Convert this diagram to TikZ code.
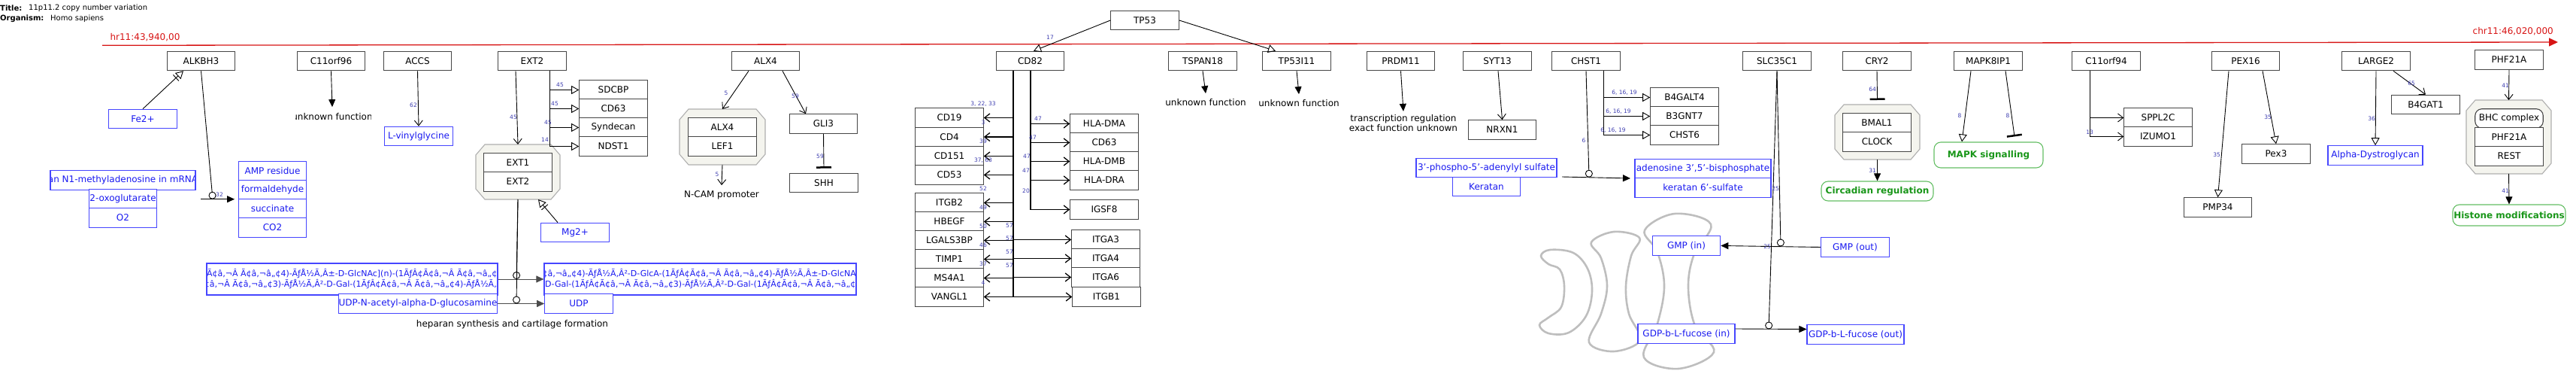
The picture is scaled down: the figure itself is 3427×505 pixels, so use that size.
\documentclass[tikz,border=0pt]{standalone}
\usepackage{fontspec}
\setmainfont{DejaVu Sans}
\usetikzlibrary{arrows.meta}
\definecolor{gbd}{RGB}{70,70,70}
\definecolor{mb}{RGB}{70,70,255}
\definecolor{mt}{RGB}{25,25,240}
\definecolor{lb}{RGB}{60,60,175}
\definecolor{pg}{RGB}{100,190,100}
\definecolor{ptx}{RGB}{25,150,25}
\definecolor{cf}{RGB}{244,244,238}
\definecolor{cb}{RGB}{175,175,175}
\definecolor{golgi}{RGB}{190,190,190}
\definecolor{axr}{RGB}{215,20,20}
\newcommand\cplxbox[5]{%
 \draw[cplx] ({#2+12},#3) -- ({#4-12},#3) -- (#4,{#3+14}) -- (#4,{#5-14}) -- ({#4-12},#5) -- ({#2+12},#5) -- (#2,{#5-14}) -- (#2,{#3+14}) -- cycle;
 \coordinate (#1n) at ({(#2+#4)/2},#3);
 \coordinate (#1s) at ({(#2+#4)/2},#5);}
\tikzset{
 gene/.style={draw=gbd, line width=1.1pt, fill=white, minimum width=90.5pt, minimum height=25.5pt, inner sep=0pt, font=\fontsize{12}{14}\selectfont},
 met/.style={gene, draw=mb, text=mt},
 pw/.style={draw=pg, line width=1.1pt, fill=white, rounded corners=9pt, text=ptx, font=\fontsize{12}{14}\selectfont\bfseries, inner sep=0pt, minimum height=26pt},
 txt/.style={font=\fontsize{12}{13.5}\selectfont, inner sep=0pt, align=center},
 num/.style={font=\fontsize{7.5}{9}\selectfont, text=lb, inner sep=0pt},
 moji/.style={inner sep=0, align=center, text=mt, font=\fontsize{11}{14}\selectfont},
 conn/.style={line width=0.9pt, draw=black},
 arr/.style={conn, -{Triangle[length=10pt,width=9pt]}},
 larr/.style={conn, -{Straight Barb[length=7pt,width=11pt]}},
 oarr/.style={conn, -{Triangle[open,length=10pt,width=11pt]}},
 barr/.style={conn, -{Bar[width=11pt,sep=3pt]Triangle[open,length=10pt,width=11pt]}},
 inh/.style={conn, -{Bar[width=20pt,line width=2.5pt]}},
 cat/.style={conn, -{Circle[open,length=10pt]}},
 cplx/.style={draw=cb, fill=cf, line width=1.1pt},
 golgishape/.style={draw=golgi, line width=2.6pt},
}
\begin{document}
\begin{tikzpicture}[x=1pt,y=-1pt]
\useasboundingbox (0,0) rectangle (3427,505);
% header
\node[anchor=west, inner sep=0, font=\fontsize{10}{12}\selectfont\bfseries] (ttl) at (0,11) {Title:};
\node[anchor=west, inner sep=0, font=\fontsize{10}{12}\selectfont] (ttlv) at (38,11) {11p11.2 copy number variation};
\node[anchor=west, inner sep=0, font=\fontsize{10}{12}\selectfont\bfseries] (org) at (0,25) {Organism:};
\node[anchor=west, inner sep=0, font=\fontsize{10}{12}\selectfont] (orgv) at (67,25) {Homo sapiens};
% chromosome axis
\coordinate (axa) at (136,60.3);
\coordinate (axb) at (3403,56);
\draw[axr, line width=1.3pt, -{Triangle[length=12pt,width=11pt]}] (axa) -- (axb);
\node[inner sep=0, text=axr, font=\fontsize{12}{14}\selectfont] (axl) at (193,50) {hr11:43,940,00};
\node[inner sep=0, anchor=east, text=axr, font=\fontsize{12}{14}\selectfont] (axr) at (3397,42) {chr11:46,020,000};
% golgi
\draw[golgishape] plot[smooth cycle, tension=0.6] coordinates {(2050,340) (2062,332) (2093,336) (2112,357) (2118,387) (2110,420) (2087,442) (2060,443) (2048,432) (2060,422) (2077,408) (2081,380) (2075,358) (2060,351)};
\draw[golgishape] plot[smooth cycle, tension=0.6] coordinates {(2117,322) (2147,308) (2181,316) (2170,340) (2163,380) (2167,417) (2182,452) (2147,467) (2114,455) (2130,417) (2138,380) (2130,343)};
\draw[golgishape] plot[smooth cycle, tension=0.6] coordinates {(2188,306) (2228,284) (2276,298) (2253,340) (2246,383) (2255,433) (2280,468) (2233,490) (2187,475) (2205,430) (2214,380) (2205,335)};
% complexes
\cplxbox{extc}{633}{192}{745}{265}
\cplxbox{alxc}{904}{145}{1018}{219}
\cplxbox{bmalc}{2441}{139}{2554}{212}
\cplxbox{bhcc}{3281}{133}{3394}{231}
% genes
\node[gene] (alkbh3) at (267.5,81) {ALKBH3};
\node[gene] (c11orf96) at (440.5,81) {C11orf96};
\node[gene] (accs) at (555.5,81) {ACCS};
\node[gene] (ext2) at (708,81) {EXT2};
\node[gene] (alx4) at (1018.5,81) {ALX4};
\node[gene] (tp53) at (1523,27) {TP53};
\node[gene] (cd82) at (1370.5,81) {CD82};
\node[gene] (tspan18) at (1600,81) {TSPAN18};
\node[gene] (tp53i11) at (1725,81) {TP53I11};
\node[gene] (prdm11) at (1863.5,81) {PRDM11};
\node[gene] (syt13) at (1992,81) {SYT13};
\node[gene] (chst1) at (2110,81) {CHST1};
\node[gene] (slc35c1) at (2364,81) {SLC35C1};
\node[gene] (cry2) at (2497,81) {CRY2};
\node[gene] (mapk8ip1) at (2645,81) {MAPK8IP1};
\node[gene] (c11orf94) at (2802,81) {C11orf94};
\node[gene] (pex16) at (2987.5,81) {PEX16};
\node[gene] (large2) at (3161,81) {LARGE2};
\node[gene] (phf21a) at (3338,79.5) {PHF21A};
\node[gene] (sdcbp) at (816,119.5) {SDCBP};
\node[gene] (cd63a) at (816,144.5) {CD63};
\node[gene] (syndecan) at (816,169.5) {Syndecan};
\node[gene] (ndst1) at (816,194.5) {NDST1};
\node[gene] (ext1) at (689,216) {EXT1};
\node[gene] (ext2b) at (689,241.5) {EXT2};
\node[gene] (alx4b) at (961,169.5) {ALX4};
\node[gene] (lef1) at (961,194.5) {LEF1};
\node[gene] (gli3) at (1095.5,164.5) {GLI3};
\node[gene] (shh) at (1096,243) {SHH};
\node[gene] (cd19) at (1263,156.5) {CD19};
\node[gene] (cd4) at (1263,182) {CD4};
\node[gene] (cd151) at (1263,207.5) {CD151};
\node[gene] (cd53) at (1263,232.5) {CD53};
\node[gene] (itgb2) at (1263,269.5) {ITGB2};
\node[gene] (hbegf) at (1263,294.5) {HBEGF};
\node[gene] (lgals3bp) at (1263,319.5) {LGALS3BP};
\node[gene] (timp1) at (1263,344.5) {TIMP1};
\node[gene] (ms4a1) at (1263,369.5) {MS4A1};
\node[gene] (vangl1) at (1263,394.5) {VANGL1};
\node[gene] (hladma) at (1469,164.5) {HLA-DMA};
\node[gene] (cd63b) at (1469,189.5) {CD63};
\node[gene] (hladmb) at (1469,214.5) {HLA-DMB};
\node[gene] (hladra) at (1469,239.5) {HLA-DRA};
\node[gene] (igsf8) at (1469,278.5) {IGSF8};
\node[gene] (itga3) at (1471,318.5) {ITGA3};
\node[gene] (itga4) at (1471,343.5) {ITGA4};
\node[gene] (itga6) at (1471,368.5) {ITGA6};
\node[gene] (itgb1) at (1472,394.5) {ITGB1};
\node[gene] (nrxn1) at (1998.5,172.5) {NRXN1};
\node[gene] (b4galt4) at (2241,129.5) {B4GALT4};
\node[gene] (b3gnt7) at (2241,154.5) {B3GNT7};
\node[gene] (chst6) at (2241,179.5) {CHST6};
\node[gene] (bmal1) at (2497,163.5) {BMAL1};
\node[gene] (clock) at (2497,188.5) {CLOCK};
\node[gene] (sppl2c) at (2871,156.5) {SPPL2C};
\node[gene] (izumo1) at (2871,181.5) {IZUMO1};
\node[gene] (pmp34) at (2950.5,275.5) {PMP34};
\node[gene] (pex3) at (3028,204.5) {Pex3};
\node[gene] (b4gat1) at (3227,139) {B4GAT1};
\node[gene, rounded corners=9pt] (bhc) at (3338,157.5) {BHC complex};
\node[gene] (phf21ab) at (3338,182.5) {PHF21A};
\node[gene] (rest) at (3338,207.5) {REST};
% metabolites
\node[met] (fe2) at (190,158) {Fe2+};
\begin{scope}
\clip (67,227) rectangle (260,252);
\node[txt, text=mt] (n1t) at (163.5,239.5) {an N1-methyladenosine in mRNA};
\end{scope}
\node[met, fill=none, minimum width=193pt] (n1meth) at (163.5,239.5) {};
\node[met] (oxoglut) at (163.5,264.5) {2-oxoglutarate};
\node[met] (o2) at (163.5,289.5) {O2};
\node[met] (amp) at (362.5,227) {AMP residue};
\node[met] (formald) at (362.5,252.5) {formaldehyde};
\node[met] (succ) at (362.5,277.5) {succinate};
\node[met] (co2) at (362.5,302.5) {CO2};
\node[met] (lvinyl) at (557,181) {L-vinylglycine};
\begin{scope}
\clip (275,350) rectangle (662,392);
\node[moji] (big1t) at (468.5,371) {ÃƒÂ¢Ã¢â‚¬Â Ã¢â‚¬â„¢4)-ÃƒÅ½Ã‚Â±-D-GlcNAc](n)-(1ÃƒÂ¢Ã¢â‚¬Â Ã¢â‚¬â„¢4)-Ãƒ\\Ã¢â‚¬Â Ã¢â‚¬â„¢3)-ÃƒÅ½Ã‚Â²-D-Gal-(1ÃƒÂ¢Ã¢â‚¬Â Ã¢â‚¬â„¢4)-ÃƒÅ½Ã‚Â²};
\end{scope}
\node[met, fill=none, minimum width=387pt, minimum height=42pt] (big1) at (468.5,371) {};
\begin{scope}
\clip (724,350) rectangle (1139,392);
\node[moji] (big2t) at (931.5,371) {Ã¢â‚¬â„¢4)-ÃƒÅ½Ã‚Â²-D-GlcA-(1ÃƒÂ¢Ã¢â‚¬Â Ã¢â‚¬â„¢4)-ÃƒÅ½Ã‚Â±-D-GlcNAc]\\Ã‚Â²-D-Gal-(1ÃƒÂ¢Ã¢â‚¬Â Ã¢â‚¬â„¢3)-ÃƒÅ½Ã‚Â²-D-Gal-(1ÃƒÂ¢Ã¢â‚¬Â Ã¢â‚¬â„¢4)-Ãƒ};
\end{scope}
\node[met, fill=none, minimum width=415pt, minimum height=42pt] (big2) at (931.5,371) {};
\node[met, minimum width=210pt] (udpnac) at (556,403.5) {UDP-N-acetyl-alpha-D-glucosamine};
\node[met] (udp) at (770,403.5) {UDP};
\node[met] (mg2) at (765,309) {Mg2+};
\node[met, minimum width=187pt] (paps) at (1977.5,223) {3'-phospho-5'-adenylyl sulfate};
\node[met] (keratan) at (1977.5,248) {Keratan};
\node[met, minimum width=181pt] (pap) at (2265.5,224) {adenosine 3',5'-bisphosphate};
\node[met, minimum width=181pt] (ker6s) at (2265.5,249.5) {keratan 6'-sulfate};
\node[met] (gmpin) at (2243.5,326.5) {GMP (in)};
\node[met] (gmpout) at (2468,328.5) {GMP (out)};
\node[met, minimum width=129pt] (gdpin) at (2243.5,443.5) {GDP-b-L-fucose (in)};
\node[met, minimum width=129pt] (gdpout) at (2468.5,444.5) {GDP-b-L-fucose (out)};
\node[met, minimum width=126pt] (adg) at (3160,206.5) {Alpha-Dystroglycan};
% pathways
\node[pw, minimum width=149pt] (circ) at (2497.5,254) {Circadian regulation};
\node[pw, minimum width=145pt, minimum height=34pt] (mapk) at (2645.5,206) {MAPK signalling};
\node[pw, minimum width=150pt, minimum height=28pt] (histone) at (3338,286) {Histone modifications};
% free texts
\begin{scope}
\clip (393,140) rectangle (493,170);
\node[txt] (uf1) at (442,155) {unknown function};
\end{scope}
\node[txt] (uf2) at (1604,136) {unknown function};
\node[txt] (uf3) at (1728,137) {unknown function};
\node[txt] (trx) at (1867,163.5) {transcription regulation\\exact function unknown};
\node[txt] (ncam) at (960,259) {N-CAM promoter};
\node[txt] (hep) at (681.5,431) {heparan synthesis and cartilage formation};
% reaction points
\coordinate (r1a) at (267,264.7);
\coordinate (r1b) at (312,264.7);
\coordinate (r1c) at (283,264.7);
\coordinate (r2c) at (687,371);
\coordinate (r3c) at (687,403.5);
\coordinate (r5a) at (2078,235);
\coordinate (r5b) at (2169,237);
\coordinate (r5c) at (2114,235.7);
\coordinate (r6c) at (2369,327.5);
\coordinate (r7c) at (2353,437.5);
% connectors
\draw[barr] (fe2.north) -- ([xshift=-23.5pt]alkbh3.south);
\draw[arr] (r1a) -- (r1b);
\draw[cat] (alkbh3.south) -- (r1c);
\draw[arr] (c11orf96.south) -- ([yshift=8pt]uf1.north);
\draw[larr] (accs.south) -- (lvinyl.north);
\draw[larr] ([xshift=-22pt]ext2.south) -- (extcn);
\foreach \t in {sdcbp,cd63a,syndecan,ndst1}{\draw[oarr] ([xshift=23pt]ext2.south) |- (\t.west);}
\draw[barr] ([xshift=-23pt]mg2.north) -- ([xshift=27pt]extcs);
\draw[arr, draw=black!70] (big1.east) -- (big2.west);
\draw[arr, draw=black!70] (udpnac.east) -- (udp.west);
\draw[cat] (extcs) -- (r2c);
\draw[cat] (extcs) -- (r3c);
\draw[larr] ([xshift=-22.5pt]alx4.south) -- (alxcn);
\draw[larr] ([xshift=22.5pt]alx4.south) -- ([xshift=-23.5pt]gli3.north);
\draw[inh] (gli3.south) -- ([yshift=6pt]shh.north);
\draw[larr] (alxcs) -- ([yshift=7pt]ncam.north);
\draw[oarr] (tp53.west) -- ([xshift=4.5pt]cd82.north);
\draw[oarr] (tp53.east) -- ([xshift=-28pt]tp53i11.north);
\foreach \t in {cd19,cd4,cd151,cd53,itgb2,hbegf,lgals3bp,timp1,ms4a1,vangl1}{\draw[larr, line width=1.3pt] ([xshift=-22.5pt]cd82.south) |- (\t.east);}
\foreach \t in {itga3,itga4,itga6,itgb1}{\draw[larr, line width=1.3pt] ([xshift=-22.5pt]cd82.south) |- (\t.west);}
\foreach \t in {hladma,cd63b,hladmb,hladra,igsf8}{\draw[larr, line width=1.3pt] ([xshift=0.5pt]cd82.south) |- (\t.west);}
\draw[arr] (tspan18.south) -- ([yshift=7pt]uf2.north);
\draw[arr] (tp53i11.south) -- ([yshift=7pt]uf3.north);
\draw[arr] (prdm11.south) -- ([yshift=4pt]trx.north);
\draw[larr] ([xshift=1pt]syt13.south) -- (nrxn1.north);
\draw[cat] (chst1.south) -- (r5c);
\foreach \t in {b4galt4,b3gnt7,chst6}{\draw[oarr] ([xshift=23pt]chst1.south) |- (\t.west);}
\draw[arr] (r5a) -- (r5b);
\draw[arr] (gmpout.west) -- (gmpin.east);
\draw[arr] ([yshift=6.5pt]gdpin.east) -- ([yshift=7pt]gdpout.west);
\draw[cat] (slc35c1.south) -- (r6c);
\draw[cat] (slc35c1.south) -- (r7c);
\draw[inh] (cry2.south) -- ([yshift=6pt]bmalcn);
\draw[arr] (bmalcs) -- (circ.north);
\draw[oarr] ([xshift=-23pt]mapk8ip1.south) -- ([xshift=-35.5pt]mapk.north);
\draw[inh] ([xshift=23pt]mapk8ip1.south) -- ([xshift=34.5pt,yshift=7pt]mapk.north);
\foreach \t in {sppl2c,izumo1}{\draw[larr] ([xshift=-22pt]c11orf94.south) |- (\t.west);}
\draw[oarr] ([xshift=-22.5pt]pex16.south) -- (pmp34.north);
\draw[oarr] ([xshift=22.5pt]pex16.south) -- (pex3.north);
\draw[oarr] (large2.south) -- (adg.north);
\draw[larr] ([xshift=23pt]large2.south) -- (b4gat1.north);
\draw[larr] (phf21a.south) -- (bhccn);
\draw[arr] (bhccs) -- (histone.north);
% numbers
\node[num] (l1) at (292,259) {32};
\node[num] (l2) at (550,140) {62};
\node[num] (l3) at (683,156) {45};
\node[num] (l4) at (745,113) {45};
\node[num] (l5) at (738,138) {45};
\node[num] (l6) at (729,163) {45};
\node[num] (l7) at (725,186) {14};
\node[num] (l8) at (966,124) {5};
\node[num] (l9) at (1058,128) {59};
\node[num] (l10) at (1091,208) {59};
\node[num] (l11) at (954,232) {5};
\node[num] (l12) at (1397,50) {17};
\node[num] (l13) at (1308,138) {3, 22, 33};
\node[num] (l14) at (1308,163) {3};
\node[num] (l15) at (1308,188) {39};
\node[num] (l16) at (1308,213) {37, 63};
\node[num] (l17) at (1308,251) {52};
\node[num] (l18) at (1308,276) {49};
\node[num] (l19) at (1308,301) {50};
\node[num] (l20) at (1308,326) {46};
\node[num] (l21) at (1308,351) {37};
\node[num] (l22) at (1308,376) {4};
\node[num] (l23) at (1381,158) {47};
\node[num] (l24) at (1374,183) {47};
\node[num] (l25) at (1366,208) {47};
\node[num] (l26) at (1365,227) {47};
\node[num] (l27) at (1365,254) {20};
\node[num] (l28) at (1343,300) {57};
\node[num] (l29) at (1343,317) {57};
\node[num] (l30) at (1343,335) {57};
\node[num] (l31) at (1343,353) {57};
\node[num] (l32) at (2107,187) {6};
\node[num] (l33) at (2161,123) {6, 16, 19};
\node[num] (l34) at (2153,148) {6, 16, 19};
\node[num] (l35) at (2146,173) {6, 16, 19};
\node[num] (l36) at (2362,251) {25};
\node[num] (l37) at (2351,328) {25};
\node[num] (l38) at (2491,119) {64};
\node[num] (l39) at (2491,227) {31};
\node[num] (l40) at (2607,154) {8};
\node[num] (l41) at (2671,154) {8};
\node[num] (l42) at (2780,176) {13};
\node[num] (l43) at (2949,206) {35};
\node[num] (l44) at (3017,156) {35};
\node[num] (l45) at (3155,158) {36};
\node[num] (l46) at (3208,111) {65};
\node[num] (l47) at (3333,114) {41};
\node[num] (l48) at (3333,254) {41};
\end{tikzpicture}
\end{document}
